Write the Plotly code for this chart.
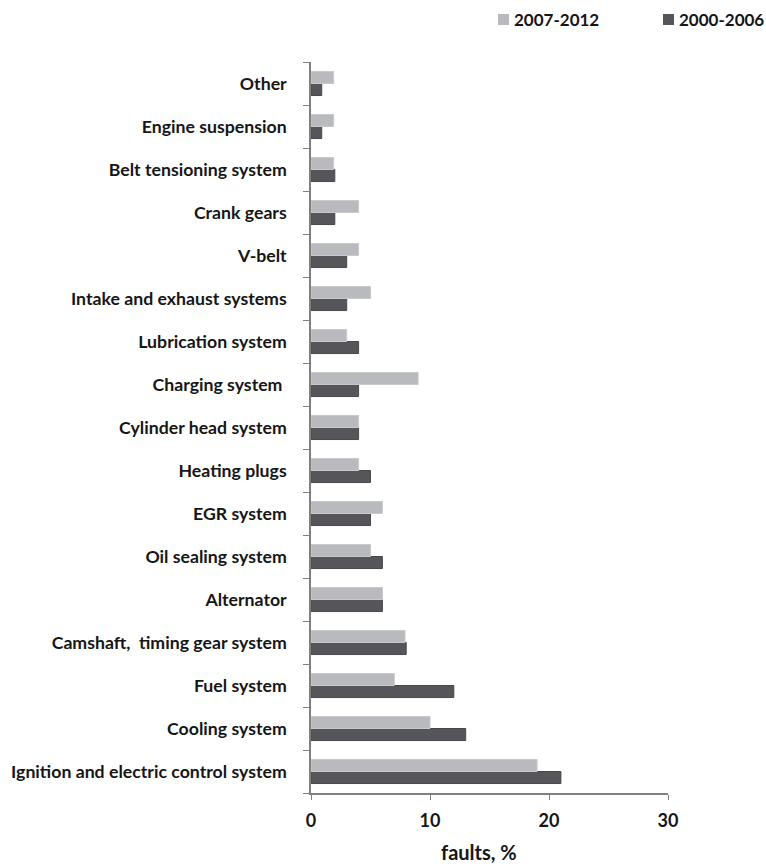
import plotly.graph_objects as go

categories = [
    "Ignition and electric control system",
    "Cooling system",
    "Fuel system",
    "Camshaft,  timing gear system",
    "Alternator",
    "Oil sealing system",
    "EGR system",
    "Heating plugs",
    "Cylinder head system",
    "Charging system ",
    "Lubrication system",
    "Intake and exhaust systems",
    "V-belt",
    "Crank gears",
    "Belt tensioning system",
    "Engine suspension",
    "Other",
]
values_2007_2012 = [19, 10, 7, 7.9, 6, 5, 6, 4, 4, 9, 3, 5, 4, 4, 1.9, 1.9, 1.9]
values_2000_2006 = [21, 13, 12, 8, 6, 6, 5, 5, 4, 4, 4, 3, 3, 2, 2, 0.9, 0.9]
series_names = ["2007-2012", "2000-2006"]

FONT = "Lato"
TXT = "#161616"
LIGHT = "#b9babd"
DARK = "#56565a"

W, H = 766, 864
ML, MR, MT, MB = 311, 98, 62, 71
PW, PH = W - ML - MR, H - MT - MB


def px_to_paper_x(px):
    return (px - ML) / PW


def px_to_paper_y(py):
    return (H - MB - py) / PH


fig = go.Figure()
fig.add_trace(go.Bar(
    y=categories, x=values_2000_2006, orientation="h", name=series_names[1],
    marker=dict(color=DARK, line=dict(color="#48484c", width=1)),
))
fig.add_trace(go.Bar(
    y=categories, x=values_2007_2012, orientation="h", name=series_names[0],
    marker=dict(color=LIGHT, line=dict(color="#c8c9cc", width=1)),
))

# legend drawn as swatches + text (to match reference spacing)
legend_items = [(series_names[0], LIGHT, 498), (series_names[1], DARK, 663)]
shapes = []
annotations = []
for name, col, x0 in legend_items:
    shapes.append(dict(
        type="rect", xref="paper", yref="paper",
        x0=px_to_paper_x(x0), x1=px_to_paper_x(x0 + 11),
        y0=px_to_paper_y(25), y1=px_to_paper_y(14),
        fillcolor=col, line=dict(width=0),
    ))
    annotations.append(dict(
        text=name, xref="paper", yref="paper",
        x=px_to_paper_x(x0 + 14), y=px_to_paper_y(19.5),
        xanchor="left", yanchor="middle", showarrow=False,
        font=dict(family=FONT, size=17, weight="bold", color=TXT),
    ))

annotations.append(dict(
    text="faults, %", xref="paper", yref="paper",
    x=px_to_paper_x(479), y=px_to_paper_y(852),
    xanchor="center", yanchor="middle", showarrow=False,
    font=dict(family=FONT, size=20, weight="bold", color=TXT),
))

fig.update_layout(
    width=W, height=H,
    paper_bgcolor="white", plot_bgcolor="white",
    barmode="group", bargap=0.44, bargroupgap=0.0,
    margin=dict(l=ML, r=MR, t=MT, b=MB, autoexpand=False),
    font=dict(family=FONT, color=TXT, size=17),
    showlegend=False,
    xaxis=dict(
        range=[0, 30], tickvals=[0, 10, 20, 30], showgrid=False, zeroline=False,
        showline=True, linecolor="#808080", linewidth=1.5, automargin=False,
        ticks="outside", ticklen=5, tickcolor="#808080",
        tickfont=dict(family=FONT, size=18, weight="bold", color=TXT),
        ticklabelstandoff=6,
    ),
    yaxis=dict(
        showgrid=False, zeroline=False, showline=True, linecolor="#808080", linewidth=1.5,
        ticks="outside", ticklen=6, tickcolor="#808080", tickson="boundaries",
        tickfont=dict(family=FONT, size=17.7, weight="bold", color=TXT),
        ticklabelstandoff=19, automargin=False,
    ),
    shapes=shapes,
    annotations=annotations,
)

fig.write_html(
    "out.html",
    config={"displayModeBar": False},
    post_script="document.body.style.margin='0';document.body.style.overflow='hidden';",
)
